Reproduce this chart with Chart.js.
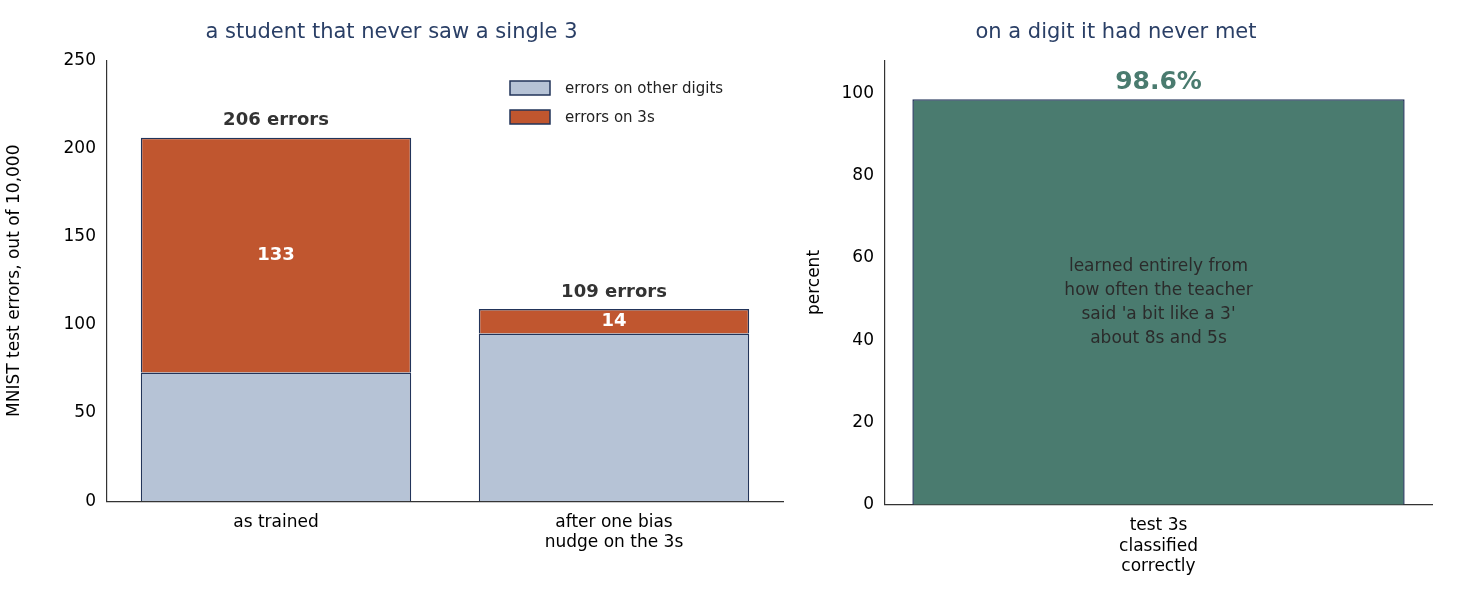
<!DOCTYPE html><html><head><script src="https://cdn.jsdelivr.net/npm/chart.js@4"></script>
<style>body{margin:0;background:#fff}#a{position:absolute;left:0;top:0}#b{position:absolute;left:800px;top:0}</style></head><body>
<div id="a" style="width:800px;height:606px"><canvas id="c1"></canvas></div>
<div id="b" style="width:657px;height:606px"><canvas id="c2"></canvas></div>
<script>
const categories=[["as trained"],["after one bias","nudge on the 3s"]];
const otherErrors=[73,95];
const threeErrors=[133,14];
const totalLabels=["206 errors","109 errors"];
const rightCats=[["test 3s","classified","correctly"]];
const rightVals=[98.6];
const yTicksLeft=[0,50,100,150,200,250];
const F="DejaVu Sans";
Chart.defaults.font.family=F;Chart.defaults.color="#000";
const edge="#22345a";
const labelsPlugin={id:"lbl",afterDatasetsDraw(ch){const c=ch.ctx;c.save();c.textAlign="center";c.textBaseline="middle";
 const m0=ch.getDatasetMeta(0),m1=ch.getDatasetMeta(1);
 m1.data.forEach((b,i)=>{c.font="bold 18px "+F;c.fillStyle="#fff";c.fillText(String(threeErrors[i]),b.x,(b.y+b.base)/2);
  c.fillStyle="#333";c.fillText(totalLabels[i],b.x,b.y-17);});
 // legend
 const ca=ch.chartArea;const lx=510,ly=[88,117],cols=["#b6c3d6","#c0562f"],txt=["errors on other digits","errors on 3s"];
 c.textAlign="left";c.font="15px "+F;
 for(let k=0;k<2;k++){c.fillStyle=cols[k];c.fillRect(lx,ly[k]-7,40,14);c.strokeStyle=edge;c.lineWidth=1.5;c.strokeRect(lx,ly[k]-7,40,14);c.fillStyle="#222";c.fillText(txt[k],lx+55,ly[k]+1);}
 c.restore();}};
const common=(title)=>({responsive:true,maintainAspectRatio:false,animation:false,
 plugins:{legend:{display:false},tooltip:{enabled:false},title:{display:true,text:title,color:"#2a3f66",font:{size:21,weight:"normal"},padding:{top:20,bottom:15}}}});
new Chart(document.getElementById("c1"),{type:"bar",plugins:[labelsPlugin],
 data:{labels:categories,datasets:[
  {data:otherErrors,backgroundColor:"#b6c3d6",borderColor:edge,borderWidth:1.5,barPercentage:0.8,categoryPercentage:1},
  {data:threeErrors,backgroundColor:"#c0562f",borderColor:edge,borderWidth:1.5,barPercentage:0.8,categoryPercentage:1}]},
 options:{...common("a student that never saw a single 3"),layout:{padding:{right:17,bottom:50}},
  scales:{x:{stacked:true,grid:{display:false,drawTicks:true},border:{color:"#333",width:1.2},ticks:{font:{size:17},color:"#000"}},
   y:{stacked:true,min:0,max:250,afterBuildTicks(s){s.ticks=yTicksLeft.map(v=>({value:v}));},afterFit(s){s.width=107},
    grid:{display:false},border:{color:"#333",width:1.2},ticks:{font:{size:17},color:"#000"},
    title:{display:true,text:"MNIST test errors, out of 10,000",font:{size:17},color:"#000"}}}}});
const rightPlugin={id:"rl",afterDatasetsDraw(ch){const c=ch.ctx;c.save();c.textAlign="center";c.textBaseline="middle";
 const b=ch.getDatasetMeta(0).data[0];c.font="bold 25px "+F;c.fillStyle="#4a7b6f";c.fillText(rightVals[0].toFixed(1)+"%",b.x,b.y-17);
 c.font="17px "+F;c.fillStyle="#2b2b2b";["learned entirely from","how often the teacher","said 'a bit like a 3'","about 8s and 5s"].forEach((t,i)=>c.fillText(t,b.x,267+i*24));
 c.restore();}};
new Chart(document.getElementById("c2"),{type:"bar",plugins:[rightPlugin],
 data:{labels:rightCats,datasets:[{data:rightVals,backgroundColor:"#4a7b6f",borderColor:edge,borderWidth:1.5,barPercentage:0.9,categoryPercentage:1}]},
 options:{...common("on a digit it had never met"),layout:{padding:{right:25,bottom:26}},
  scales:{x:{grid:{display:false},border:{color:"#333",width:1.2},ticks:{font:{size:17},color:"#000"}},
   y:{min:0,max:108.1,afterBuildTicks(s){s.ticks=[0,20,40,60,80,100].map(v=>({value:v}));},afterFit(s){s.width=85},
    grid:{display:false},border:{color:"#333",width:1.2},ticks:{font:{size:17},color:"#000"},
    title:{display:true,text:"percent",font:{size:17},color:"#000"}}}}});
</script></body></html>
